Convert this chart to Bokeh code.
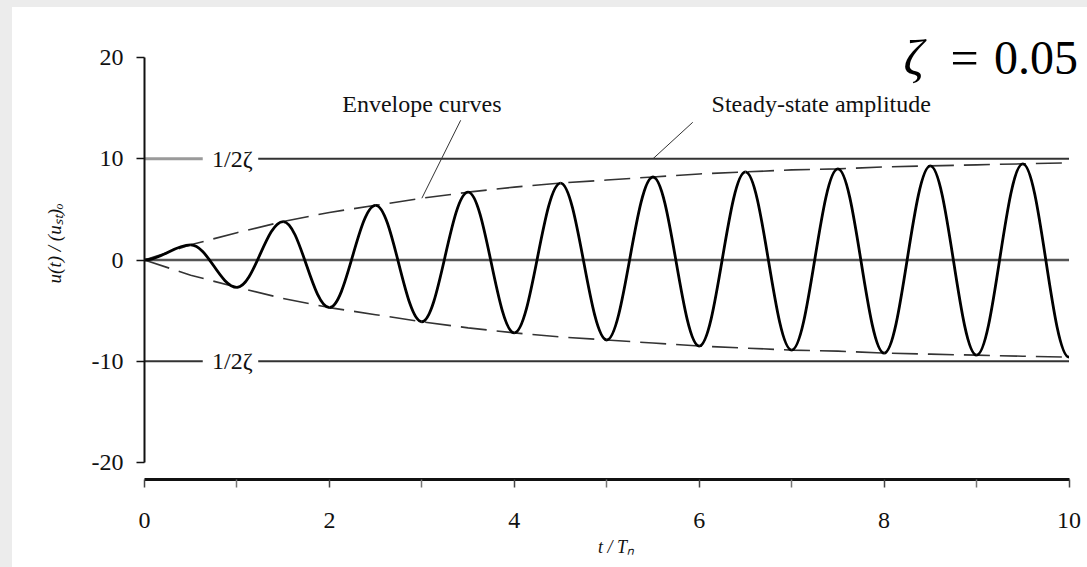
from bokeh.plotting import figure
from bokeh.models import Range1d, FixedTicker, Spacer
from bokeh.layouts import column, row
from bokeh.embed import file_html
from bokeh.resources import INLINE
from bokeh.core.properties import value

# ---- data ----
# times of the response extremes (t / Tn) and the values there
t_ext = [0.0, 0.5, 1.0, 1.5, 2.0, 2.5, 3.0, 3.5, 4.0, 4.5, 5.0,
         5.5, 6.0, 6.5, 7.0, 7.5, 8.0, 8.5, 9.0, 9.5, 10.0]
u_ext = [0.0, 1.5, -2.7, 3.8, -4.7, 5.4, -6.1, 6.7, -7.2, 7.6, -7.9,
         8.2, -8.5, 8.7, -8.9, 9.0, -9.2, 9.3, -9.4, 9.5, -9.6]
steady_amp = [10, -10]          # 1/2zeta
x_ticks = [0, 2, 4, 6, 8, 10]
x_minor = [1, 3, 5, 7, 9]
y_ticks = [-20, -10, 0, 10, 20]
y_tick_labels = {-20: "-20", -10: "-10", 0: "0", 10: "10", 20: "20"}

SERIF = "Liberation Serif"
INK = "#111111"

p = figure(width=1075, height=560, x_range=Range1d(0, 10.2), y_range=Range1d(-21.68, 24.94),
           output_backend="svg", toolbar_location=None,
           min_border_left=132, min_border_right=0, min_border_top=0, min_border_bottom=88)
p.xgrid.visible = False
p.ygrid.visible = False
p.outline_line_color = None
p.background_fill_color = "white"
p.border_fill_color = "white"

# x axis
xa = p.xaxis[0]
xa.ticker = FixedTicker(ticks=x_ticks, minor_ticks=x_minor)
xa.bounds = (0, 10)
xa.axis_line_width = 3
xa.axis_line_color = INK
xa.major_tick_out = 8
xa.major_tick_in = 0
xa.minor_tick_out = 8
xa.minor_tick_in = 0
xa.major_tick_line_color = "#444444"
xa.minor_tick_line_color = "#777777"
xa.major_tick_line_width = 1.5
xa.minor_tick_line_width = 1.5
xa.major_label_standoff = 25
xa.major_label_text_font = SERIF
xa.major_label_text_font_size = "24px"
xa.major_label_text_color = INK
xa.axis_label = "t / Tₙ"
xa.axis_label_text_font = SERIF
xa.axis_label_text_font_style = "italic"
xa.axis_label_text_font_size = "18px"
xa.axis_label_text_color = INK
xa.axis_label_standoff = 6

# y axis
ya = p.yaxis[0]
ya.ticker = FixedTicker(ticks=y_ticks)
ya.bounds = (-20, 20)
ya.major_label_overrides = y_tick_labels
ya.axis_line_width = 2
ya.axis_line_color = INK
ya.major_tick_out = 8
ya.major_tick_in = 0
ya.minor_tick_out = 0
ya.minor_tick_in = 0
ya.major_tick_line_color = INK
ya.major_tick_line_width = 1.5
ya.major_label_standoff = 13
ya.major_label_text_font = SERIF
ya.major_label_text_font_size = "24px"
ya.major_label_text_color = INK
ya.axis_label = "u(t) / (uₛₜ)ₒ"
ya.axis_label_text_font = SERIF
ya.axis_label_text_font_style = "italic"
ya.axis_label_text_font_size = "19px"
ya.axis_label_text_color = INK
ya.axis_label_standoff = 24

# zero line
p.line([t_ext[0], t_ext[-1]], [0, 0], line_color="#555555", line_width=2.5)

# steady-state amplitude lines (broken for the 1/2zeta labels)
p.segment(x0=[t_ext[0]], y0=[steady_amp[0]], x1=[0.63], y1=[steady_amp[0]],
          line_color="#9a9a9a", line_width=3)
p.segment(x0=[t_ext[0]], y0=[steady_amp[1]], x1=[0.63], y1=[steady_amp[1]],
          line_color="#333333", line_width=1.8)
p.segment(x0=[1.23, 1.23], y0=steady_amp, x1=[t_ext[-1]] * 2, y1=steady_amp,
          line_color="#333333", line_width=1.8)
p.text(x=[0.95, 0.95], y=steady_amp, text=["1/2ζ", "1/2ζ"],
       text_font=value(SERIF), text_font_size="24px", text_color=INK,
       text_align="center", text_baseline="middle")

# envelope curves
env_up = [abs(v) for v in u_ext]
env_dn = [-abs(v) for v in u_ext]
p.line(t_ext, env_up, line_color="#333333", line_width=1.6, line_dash="26 10")
p.line(t_ext, env_dn, line_color="#333333", line_width=1.6, line_dash="26 10")

# response curve: smooth half-waves between the read extremes
k = 0.3634
x0 = t_ext[:-1]
x1 = t_ext[1:]
y0 = u_ext[:-1]
y1 = u_ext[1:]
cx0 = [a + k * (b - a) for a, b in zip(x0, x1)]
cx1 = [b - k * (b - a) for a, b in zip(x0, x1)]
p.bezier(x0=x0, y0=y0, x1=x1, y1=y1, cx0=cx0, cy0=y0, cx1=cx1, cy1=y1,
         line_color="#000000", line_width=2.8)

# annotations
p.text(x=[3.0, 7.32], y=[15.4, 15.4], text=["Envelope curves", "Steady-state amplitude"],
       text_font=value(SERIF), text_font_size="24px", text_color=INK,
       text_align="center", text_baseline="middle")
p.segment(x0=[3.42, 5.93], y0=[13.8, 13.6], x1=[t_ext[6], 5.5], y1=[env_up[6], steady_amp[0]],
          line_color="#333333", line_width=1)

# zeta = 0.05
p.text(x=[8.21], y=[20], text=["ζ"], text_font=value(SERIF), text_font_size="50px",
       text_font_style="italic", text_color="black", text_align="left", text_baseline="alphabetic")
p.text(x=[8.87], y=[20], text=["="], text_font=value(SERIF), text_font_size="50px",
       text_color="black", text_align="center", text_baseline="alphabetic")
p.text(x=[9.19], y=[20], text=["0.05"], text_font=value(SERIF), text_font_size="48px",
       text_color="black", text_align="left", text_baseline="alphabetic")

GRAY = {"background-color": "#ececec"}
layout = column(Spacer(width=1087, height=7, styles=GRAY),
                row(Spacer(width=12, height=560, styles=GRAY), p))

open("out.html", "w").write(file_html(layout, INLINE))
